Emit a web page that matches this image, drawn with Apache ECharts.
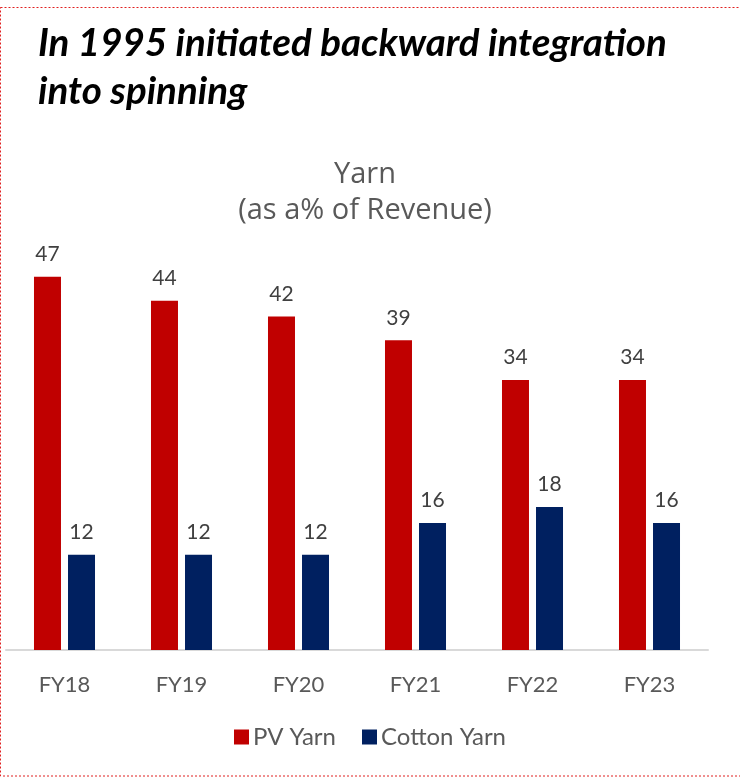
<!DOCTYPE html>
<html><head><meta charset="utf-8">
<script src="https://cdn.jsdelivr.net/npm/echarts@6/dist/echarts.min.js"></script>
<style>html,body{margin:0;padding:0;background:#fff}#c{width:740px;height:780px}</style>
</head><body><div id="c"></div>
<script>
const categories = ['FY18','FY19','FY20','FY21','FY22','FY23'];
const pvYarn = [47,44,42,39,34,34];
const cottonYarn = [12,12,12,16,18,16];
const seriesNames = ['PV Yarn','Cotton Yarn'];
const chartTitle = 'In 1995 initiated backward integration\ninto spinning';
const chartSubtitle = 'Yarn\n(as a% of Revenue)';

const chart = echarts.init(document.getElementById('c'), null, {renderer:'canvas'});
const lbl = {show:true, position:'top', distance:12, color:'#404040', fontSize:21, fontFamily:'Lato'};
chart.setOption({
  animation:false,
  title:[
    {text:chartTitle, left:33, top:15, textStyle:{fontFamily:'Lato', fontStyle:'italic', fontWeight:'bold', fontSize:38.5, color:'#000', lineHeight:48}},
    {text:chartSubtitle, left:360, top:152, textAlign:'center', textStyle:{fontFamily:'Open Sans', fontWeight:'normal', fontSize:29, color:'#595959', lineHeight:36, align:'center'}}
  ],
  graphic:[{type:'rect', shape:{x:0.5, y:7.5, width:760, height:768.5}, style:{fill:'none', stroke:'#e02020', lineWidth:1, lineDash:[2,2]}}],
  legend:{data:seriesNames, bottom:26, left:'center', itemWidth:15, itemHeight:15, itemGap:26, icon:'rect',
    textStyle:{fontFamily:'Lato', fontSize:24, color:'#595959', padding:[0,0,0,-1]}},
  grid:{left:6, right:32, top:253, bottom:130, containLabel:false},
  xAxis:{type:'category', data:categories, axisLine:{lineStyle:{color:'#d9d9d9', width:2}}, axisTick:{show:false},
    axisLabel:{fontFamily:'Lato', fontSize:22, color:'#595959', margin:24}},
  yAxis:{type:'value', min:0, max:50, show:false, splitLine:{show:false}},
  series:[
    {name:seriesNames[0], type:'bar', data:pvYarn, barWidth:27, barGap:'26%', itemStyle:{color:'#c00000'}, label:lbl},
    {name:seriesNames[1], type:'bar', data:cottonYarn, barWidth:27, itemStyle:{color:'#002060'}, label:lbl}
  ]
});
</script></body></html>
